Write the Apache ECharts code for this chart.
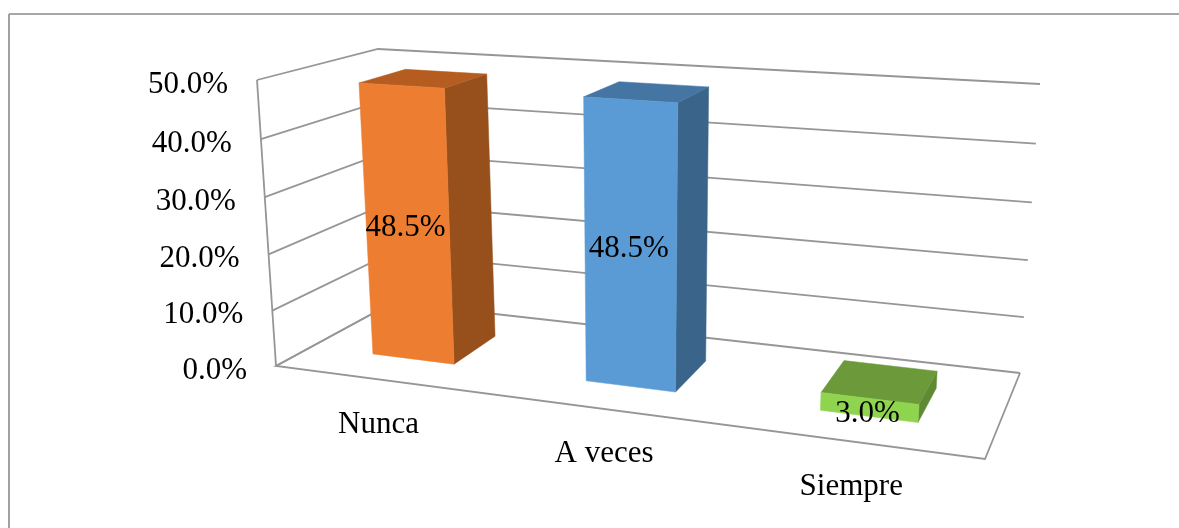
<!DOCTYPE html>
<html>
<head>
<meta charset="utf-8">
<style>html,body{margin:0;padding:0;background:#fff}#c{width:1179px;height:528px}</style>
<script src="https://cdn.jsdelivr.net/npm/echarts@6/dist/echarts.min.js"></script>
</head>
<body>
<div id="c"></div>
<script>
var categories = ['Nunca', 'A veces', 'Siempre'];
var values = [48.5, 48.5, 3.0];
var valueLabels = ['48.5%', '48.5%', '3.0%'];
var tickValues = [0, 10, 20, 30, 40, 50];
var tickLabels = ['0.0%', '10.0%', '20.0%', '30.0%', '40.0%', '50.0%'];

var FONT = '31px "Liberation Serif"';
var TEXT = '#000';
var LINE = '#969696';
var faceColors = [
  {front: '#ED7D31', top: '#B55D21', side: '#97501C'},
  {front: '#5B9BD5', top: '#4575A2', side: '#3A6489'},
  {front: '#8ED44E', top: '#6C9A3A', side: '#5F8A33'}
];
// Projected corners of the 3D plot box: [category end, value end, depth end]
var box = {
  '000': [276, 366], '100': [985, 459], '010': [257, 80], '110': [1005, 127],
  '001': [393, 302.5], '101': [1020, 373], '011': [378, 49], '111': [1040, 84]
};
var DEPTH_FRONT = 0.31, DEPTH_BACK = 0.72, GAP = 1.55;
var G = {left: 100, top: 100, width: 900, height: 300};

function project(u, v, d) {
  var uu = u - 0.138 * u * (1 - u);
  var vv = v - 0.04 * v * (1 - v);
  var out = [0, 0];
  for (var i = 0; i < 2; i++) {
    for (var a = 0; a < 2; a++) for (var b = 0; b < 2; b++) for (var c = 0; c < 2; c++) {
      out[i] += box['' + a + b + c][i] * (a ? uu : 1 - uu) * (b ? vv : 1 - vv) * (c ? d : 1 - d);
    }
  }
  return out;
}
function norm(pt) {
  return [(pt[0] - G.left) / G.width, (G.top + G.height - pt[1]) / G.height];
}
function poly(points, fill) {
  return {type: 'polygon', shape: {points: points}, style: {fill: fill, stroke: fill, lineWidth: 0.5}};
}
function line(points) {
  return {type: 'polyline', shape: {points: points}, style: {fill: 'none', stroke: LINE, lineWidth: 1.8}};
}
function text(str, x, y, align) {
  return {type: 'text', z2: 10, style: {text: str, x: x, y: y, font: FONT, fill: TEXT, align: align, verticalAlign: 'middle'}};
}

function renderWalls(params, api) {
  var v = norm(api.coord([0, api.value(0)]))[1];
  var children = [line([project(0, v, 0), project(0, v, 1), project(1, v, 1)])];
  var p = project(0, v, 0);
  children.push(text(tickLabels[params.dataIndex], p[0] - 29, p[1] + 4.5, 'right'));
  if (params.dataIndex === 0) {
    children.push(line([project(0, 0, 1), project(0, 0, 0), project(1, 0, 0), project(1, 0, 1)]));
    children.push(line([project(0, 0, 0), project(0, 1, 0)]));
  }
  return {type: 'group', children: children};
}

function renderBars(params, api) {
  var i = params.dataIndex;
  var top = api.coord([i, api.value(1)]);
  var band = api.size([1, 0])[0];
  var w = band / (1 + GAP);
  var n = norm(top);
  var u0 = norm([top[0] - w / 2, 0])[0], u1 = norm([top[0] + w / 2, 0])[0];
  var v = n[1], dF = DEPTH_FRONT, dB = DEPTH_BACK;
  var c = faceColors[i];
  var fb0 = project(u0, 0, dF), fb1 = project(u1, 0, dF), ft0 = project(u0, v, dF), ft1 = project(u1, v, dF);
  var bb1 = project(u1, 0, dB), bt0 = project(u0, v, dB), bt1 = project(u1, v, dB);
  var cx = (fb0[0] + fb1[0] + ft0[0] + ft1[0]) / 4, cy = (fb0[1] + fb1[1] + ft0[1] + ft1[1]) / 4;
  var base = project(n[0], 0, 0);
  return {type: 'group', children: [
    poly([fb1, bb1, bt1, ft1], c.side),
    poly([ft0, ft1, bt1, bt0], c.top),
    poly([fb0, fb1, ft1, ft0], c.front),
    text(valueLabels[i], cx - 2, cy + 6, 'center'),
    text(categories[i], base[0] - 2, base[1] + 45, 'center')
  ]};
}

var chart = echarts.init(document.getElementById('c'), null, {renderer: 'canvas'});
chart.setOption({
  animation: false,
  backgroundColor: '#fff',
  grid: {left: G.left, top: G.top, width: G.width, height: G.height},
  xAxis: {type: 'category', data: categories, show: false},
  yAxis: {type: 'value', min: 0, max: 50, interval: 10, show: false},
  graphic: [
    {type: 'line', silent: true, shape: {x1: 9, y1: 14, x2: 1179, y2: 14}, style: {stroke: '#8a8a8a', lineWidth: 1.6}},
    {type: 'line', silent: true, shape: {x1: 9, y1: 14, x2: 9, y2: 528}, style: {stroke: '#8a8a8a', lineWidth: 1.6}}
  ],
  series: [
    {type: 'custom', z: 1, coordinateSystem: 'cartesian2d', renderItem: renderWalls, clip: false,
     encode: {y: 0}, data: tickValues.map(function (t) { return [t]; })},
    {type: 'custom', z: 2, coordinateSystem: 'cartesian2d', renderItem: renderBars, clip: false,
     encode: {x: 0, y: 1}, data: values.map(function (val, i) { return [i, val]; })}
  ]
});
</script>
</body>
</html>
